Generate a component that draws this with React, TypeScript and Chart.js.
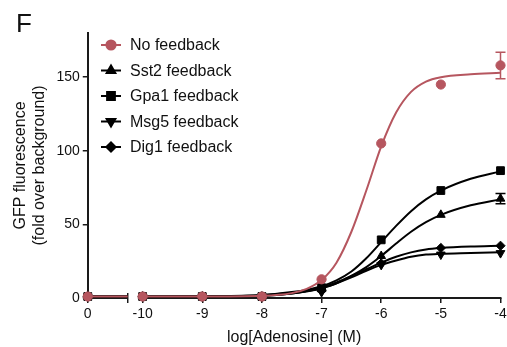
import React, { useEffect, useRef } from 'react';
import { Chart, registerables } from 'chart.js';
import { drawPoint } from 'chart.js/helpers';

Chart.register(...registerables);

// ---- axis layout values (broken x axis: "0" control shown left of the break) ----
const CTRL_POS = -10.92;
const BREAK_END = -10.25;
const SEG2_START = -10.08;

const xTickValues = [CTRL_POS, -10, -9, -8, -7, -6, -5, -4];
const xTickLabels = ['0', '-10', '-9', '-8', '-7', '-6', '-5', '-4'];
const yTickValues = [0, 50, 100, 150];

// ---- measured points ----
const doseX = [CTRL_POS, -10, -9, -8, -7, -6, -5, -4];
const noFeedback = [1, 1, 1, 1, 12.7, 105, 145, 158];
const noFeedbackErr = [0, 0, 0, 0, 0, 0, 0, 9];
const sst2 = [1, 1, 1, 1, 6, 28.5, 56.5, 67.5];
const sst2Err = [0, 0, 0, 0, 0, 0, 0, 3.5];
const gpa1 = [1, 1, 1, 1, 7, 39.5, 73, 86.5];
const msg5 = [1, 1, 1, 1, 4, 22.5, 29.5, 30.5];
const dig1 = [1, 1, 1, 1, 5, 23.5, 34, 35.5];

// ---- fitted curves ----
const fitX = [-10, -9, -8, -7.5, -7.25, -7, -6.75, -6.5, -6.25, -6, -5.75, -5.5, -5.25, -5, -4.5, -4];
const noFeedbackFit = [1, 1, 1.5, 3.3, 6.2, 12.2, 24, 45, 73, 103, 126, 140, 147, 150, 152, 153];
const sst2Fit = [1, 1.1, 1.8, 3.5, 4.8, 7, 10, 15, 21, 28.5, 37, 45, 51.5, 56.5, 63, 67];
const gpa1Fit = [1, 1.2, 2, 4, 5.5, 8, 12, 18, 27, 38, 49, 59, 67, 73, 81, 86];
const msg5Fit = [1, 1, 1.5, 3, 4.5, 6.5, 10, 14, 18.5, 22.5, 25.5, 28, 29.5, 30, 30.5, 31];
const dig1Fit = [1, 1, 1.5, 3, 4.5, 7, 10.5, 15, 19.5, 24, 28, 31, 33, 34, 35, 35.5];

const labels = ['No feedback', 'Sst2 feedback', 'Gpa1 feedback', 'Msg5 feedback', 'Dig1 feedback'];

const RED = '#b6565f';
const BLACK = '#000000';
const AXIS = '#1a1a1a';
const TEXT = '#111111';
const FONT = "'Liberation Sans', Arial, Helvetica, sans-serif";

const styles = [
  { color: RED, pointStyle: 'circle', radius: 4.6, rotation: 0 },
  { color: BLACK, pointStyle: 'triangle', radius: 5, rotation: 0 },
  { color: BLACK, pointStyle: 'rect', radius: 5.5, rotation: 0 },
  { color: BLACK, pointStyle: 'triangle', radius: 5, rotation: 180 },
  { color: BLACK, pointStyle: 'rectRot', radius: 4.6, rotation: 0 },
];

const pointSeries = [noFeedback, sst2, gpa1, msg5, dig1];
const fitSeries = [noFeedbackFit, sst2Fit, gpa1Fit, msg5Fit, dig1Fit];
const errSeries = [noFeedbackErr, sst2Err, null, null, null];

function fitData(vals: number[], ctrl: number) {
  const pts: { x: number; y: number | null }[] = [
    { x: CTRL_POS, y: ctrl },
    { x: BREAK_END, y: ctrl },
    { x: -10.1, y: null },
  ];
  fitX.forEach((x, i) => pts.push({ x, y: vals[i] }));
  return pts;
}

const decorPlugin = {
  id: 'decor',
  beforeDatasetsDraw(chart: any) {
    const ctx = chart.ctx;
    const xs = chart.scales.x;
    const y0 = chart.chartArea.bottom;
    ctx.save();
    ctx.strokeStyle = AXIS;
    ctx.lineWidth = 2;
    ctx.beginPath();
    ctx.moveTo(xs.getPixelForValue(CTRL_POS) - 1, y0);
    ctx.lineTo(xs.getPixelForValue(BREAK_END), y0);
    ctx.moveTo(xs.getPixelForValue(SEG2_START), y0);
    ctx.lineTo(xs.getPixelForValue(-4) + 1, y0);
    ctx.stroke();
    const bx = xs.getPixelForValue(BREAK_END);
    ctx.lineWidth = 1.5;
    ctx.beginPath();
    ctx.moveTo(bx, y0 - 5);
    ctx.lineTo(bx, y0 + 5);
    ctx.stroke();
    ctx.restore();
  },
  afterDatasetsDraw(chart: any) {
    const ctx = chart.ctx;
    const xs = chart.scales.x;
    const ys = chart.scales.y;
    ctx.save();
    errSeries.forEach((errs, si) => {
      if (!errs) return;
      ctx.strokeStyle = styles[si].color;
      ctx.lineWidth = 1.5;
      errs.forEach((e, i) => {
        if (!e) return;
        const px = xs.getPixelForValue(doseX[i]);
        const top = ys.getPixelForValue(pointSeries[si][i] + e);
        const bot = ys.getPixelForValue(pointSeries[si][i] - e);
        ctx.beginPath();
        ctx.moveTo(px, top);
        ctx.lineTo(px, bot);
        ctx.moveTo(px - 5, top);
        ctx.lineTo(px + 5, top);
        ctx.moveTo(px - 5, bot);
        ctx.lineTo(px + 5, bot);
        ctx.stroke();
      });
    });
    ctx.restore();
  },
  afterDraw(chart: any) {
    const ctx = chart.ctx;
    ctx.save();
    // panel letter
    ctx.fillStyle = TEXT;
    ctx.font = `26px ${FONT}`;
    ctx.textBaseline = 'alphabetic';
    ctx.textAlign = 'left';
    ctx.fillText('F', 16, 32);
    // legend
    ctx.font = `16px ${FONT}`;
    ctx.textBaseline = 'middle';
    labels.forEach((lab, i) => {
      const yy = 45 + i * 25.5;
      const st = styles[i];
      ctx.strokeStyle = st.color;
      ctx.fillStyle = st.color;
      ctx.lineWidth = 2;
      ctx.beginPath();
      ctx.moveTo(101, yy);
      ctx.lineTo(121, yy);
      ctx.stroke();
      drawPoint(ctx, { pointStyle: st.pointStyle as any, radius: st.radius, rotation: st.rotation, borderWidth: 1 }, 111, yy);
      ctx.fillStyle = TEXT;
      ctx.fillText(lab, 130, yy + 1);
    });
    ctx.restore();
  },
};

export default function App() {
  const ref = useRef<HTMLCanvasElement>(null);
  useEffect(() => {
    document.body.style.margin = '0';
    Chart.defaults.font.family = FONT;
    Chart.defaults.color = TEXT;
    const datasets: any[] = [];
    labels.forEach((lab, i) => {
      const st = styles[i];
      datasets.push({
        label: lab,
        data: doseX.map((x, j) => ({ x, y: pointSeries[i][j] })),
        showLine: false,
        pointStyle: st.pointStyle,
        pointRotation: st.rotation,
        pointRadius: st.radius,
        pointBackgroundColor: st.color,
        pointBorderColor: st.color,
        pointBorderWidth: 1,
        clip: false,
        order: i * 2,
      });
      datasets.push({
        label: lab + ' fit',
        data: fitData(fitSeries[i], pointSeries[i][0]),
        showLine: true,
        borderColor: st.color,
        borderWidth: 2,
        pointRadius: 0,
        cubicInterpolationMode: 'monotone',
        spanGaps: false,
        clip: false,
        order: i * 2 + 1,
      });
    });
    const chart = new Chart(ref.current!, {
      type: 'scatter',
      data: { datasets },
      options: {
        responsive: false,
        animation: false,
        events: [],
        layout: { padding: { left: 7, top: 33, right: 5, bottom: 0 } },
        plugins: { legend: { display: false }, tooltip: { enabled: false } },
        scales: {
          x: {
            type: 'linear',
            min: CTRL_POS,
            max: -4,
            afterBuildTicks: (s: any) => {
              s.ticks = xTickValues.map((v) => ({ value: v }));
            },
            afterFit: (s: any) => {
              s.paddingRight = 0;
              s.paddingLeft = 0;
            },
            ticks: {
              font: { size: 14 },
              color: TEXT,
              padding: 3,
              maxRotation: 0,
              autoSkip: false,
              callback: (v: any) => {
                const idx = xTickValues.findIndex((t) => Math.abs(t - v) < 1e-6);
                return idx >= 0 ? xTickLabels[idx] : '';
              },
            },
            grid: { drawOnChartArea: false, drawTicks: true, tickLength: 5, color: AXIS, lineWidth: 1.5 },
            border: { display: false },
            title: { display: true, text: 'log[Adenosine] (M)', font: { size: 16 }, color: TEXT, padding: { top: 2, bottom: 0 } },
          },
          y: {
            type: 'linear',
            min: 0,
            max: 180,
            afterBuildTicks: (s: any) => {
              s.ticks = yTickValues.map((v) => ({ value: v }));
            },
            ticks: { font: { size: 14 }, color: TEXT, padding: 3 },
            grid: { drawOnChartArea: false, drawTicks: true, tickLength: 5, color: AXIS, lineWidth: 1.5 },
            border: { display: true, color: AXIS, width: 2 },
            title: {
              display: true,
              text: ['GFP fluorescence', '(fold over background)'],
              font: { size: 16 },
              color: TEXT,
              padding: { top: 4, bottom: 4 },
            },
          },
        },
      },
      plugins: [decorPlugin],
    } as any);
    return () => chart.destroy();
  }, []);
  return (
    <div style={{ width: 507, height: 347 }}>
      <canvas ref={ref} width={507} height={347} style={{ display: 'block' }} />
    </div>
  );
}
